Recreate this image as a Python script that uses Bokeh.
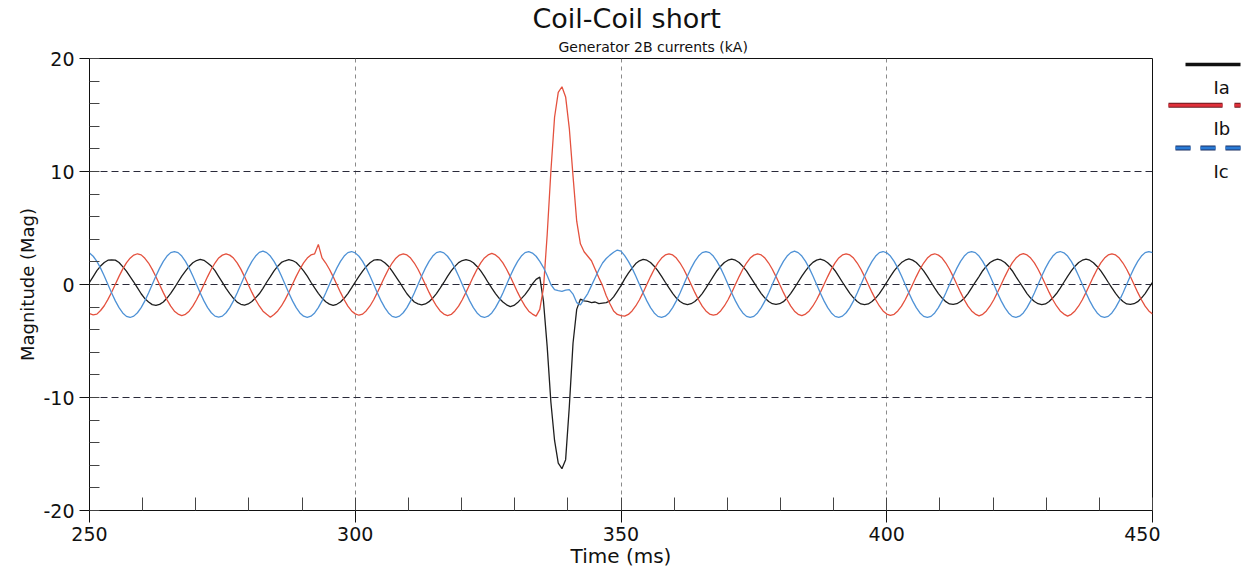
import numpy as np
from bokeh.plotting import figure
from bokeh.models import Range1d, FixedTicker, Title, ColumnDataSource
from bokeh.layouts import row
from bokeh.embed import file_html
from bokeh.resources import INLINE
from bokeh.core.properties import value

# ---------------- data ----------------
T_START = 250.0            # ms, first sample
SAMPLE_MS = 200.0 / 288    # 24 samples per 60 Hz cycle

TITLE = "Coil-Coil short"
SUBTITLE = "Generator 2B currents (kA)"
X_LABEL = "Time (ms)"
Y_LABEL = "Magnitude (Mag)"
SERIES_NAMES = ["Ia", "Ib", "Ic"]
X_TICKS = [250, 300, 350, 400, 450]
Y_TICKS = [-20, -10, 0, 10, 20]
Y_TICK_LABELS = ["-20", "-10", "0", "10", "20"]

IA = [
    0.18, 0.70, 1.22, 1.63, 1.95, 2.15, 2.18, 2.16, 1.95, 1.58, 1.18, 0.70, 0.22, -0.30, -0.82, -1.25, -1.55, -1.78, -1.85, -1.76, -1.55, -1.20, -0.78, -0.30,
    0.22, 0.74, 1.18, 1.60, 1.92, 2.12, 2.22, 2.14, 1.90, 1.63, 1.22, 0.70, 0.18, -0.34, -0.80, -1.22, -1.56, -1.75, -1.82, -1.72, -1.50, -1.18, -0.82, -0.34,
    0.20, 0.70, 1.21, 1.62, 1.95, 2.10, 2.20, 2.12, 1.95, 1.60, 1.20, 0.74, 0.20, -0.30, -0.78, -1.20, -1.52, -1.74, -1.85, -1.75, -1.55, -1.22, -0.80, -0.30,
    0.22, 0.72, 1.18, 1.60, 1.93, 2.15, 2.20, 2.15, 1.92, 1.62, 1.18, 0.70, 0.22, -0.32, -0.82, -1.20, -1.55, -1.72, -1.80, -1.72, -1.52, -1.20, -0.80, -0.32,
    0.18, 0.72, 1.20, 1.60, 1.94, 2.12, 2.20, 2.12, 1.93, 1.60, 1.20, 0.72, 0.18, -0.32, -0.80, -1.22, -1.55, -1.80, -1.95, -1.85, -1.60, -1.25, -0.90, -0.45,
    0.05, 0.45, 0.65, -1.50, -5.50, -10.4, -13.8, -15.8, -16.3, -15.5, -10.8, -5.2, -2.2, -1.30, -1.45, -1.50, -1.60, -1.55, -1.70, -1.65, -1.60, -1.45, -1.10, -0.60,
    -0.10, 0.50, 1.00, 1.45, 1.85, 2.10, 2.22, 2.15, 1.95, 1.62, 1.20, 0.72, 0.20, -0.30, -0.78, -1.20, -1.50, -1.70, -1.78, -1.70, -1.50, -1.20, -0.80, -0.32,
    0.20, 0.72, 1.22, 1.62, 1.95, 2.15, 2.25, 2.15, 1.95, 1.60, 1.20, 0.70, 0.18, -0.32, -0.80, -1.20, -1.50, -1.70, -1.76, -1.70, -1.52, -1.20, -0.78, -0.30,
    0.22, 0.74, 1.20, 1.63, 1.96, 2.16, 2.24, 2.14, 1.93, 1.62, 1.22, 0.72, 0.20, -0.30, -0.78, -1.18, -1.50, -1.72, -1.78, -1.72, -1.50, -1.20, -0.80, -0.32,
    0.20, 0.72, 1.20, 1.60, 1.94, 2.15, 2.26, 2.16, 1.95, 1.60, 1.20, 0.72, 0.20, -0.32, -0.80, -1.20, -1.52, -1.72, -1.75, -1.70, -1.50, -1.22, -0.80, -0.30,
    0.22, 0.70, 1.22, 1.62, 1.95, 2.14, 2.24, 2.15, 1.94, 1.62, 1.22, 0.70, 0.20, -0.30, -0.80, -1.20, -1.50, -1.70, -1.78, -1.72, -1.50, -1.18, -0.80, -0.32,
    0.20, 0.72, 1.20, 1.62, 1.95, 2.15, 2.25, 2.15, 1.93, 1.60, 1.20, 0.72, 0.20, -0.30, -0.78, -1.20, -1.50, -1.72, -1.76, -1.70, -1.52, -1.20, -0.80, -0.30,
    0.20,
]

IB = [
    -2.58, -2.68, -2.62, -2.30, -1.88, -1.32, -0.68, 0.02, 0.72, 1.36, 1.92, 2.33, 2.60, 2.72, 2.62, 2.32, 1.90, 1.34, 0.68, -0.02, -0.72, -1.36, -1.92, -2.36,
    -2.62, -2.75, -2.64, -2.36, -1.92, -1.35, -0.70, 0.00, 0.70, 1.35, 1.90, 2.35, 2.60, 2.70, 2.60, 2.34, 1.92, 1.36, 0.70, 0.00, -0.70, -1.35, -1.90, -2.36,
    -2.64, -2.90, -2.66, -2.34, -1.90, -1.34, -0.70, 0.02, 0.72, 1.35, 1.92, 2.34, 2.62, 2.72, 3.55, 2.35, 1.90, 1.35, 0.70, 0.00, -0.70, -1.35, -1.92, -2.34,
    -2.60, -2.72, -2.62, -2.32, -1.90, -1.35, -0.70, 0.00, 0.70, 1.35, 1.90, 2.33, 2.60, 2.70, 2.62, 2.34, 1.90, 1.35, 0.68, 0.00, -0.70, -1.34, -1.90, -2.34,
    -2.62, -2.75, -2.65, -2.34, -1.92, -1.35, -0.70, 0.00, 0.70, 1.35, 1.92, 2.35, 2.62, 2.75, 2.62, 2.34, 1.91, 1.35, 0.70, 0.00, -0.70, -1.35, -1.92, -2.36,
    -2.62, -2.80, -2.20, -0.30, 4.40, 10.0, 14.8, 17.0, 17.5, 16.6, 13.8, 9.60, 5.60, 3.60, 2.90, 2.50, 2.10, 1.35, 0.60, -0.10, -1.00, -1.70, -2.35, -2.65,
    -2.75, -2.80, -2.65, -2.34, -1.90, -1.35, -0.70, 0.00, 0.70, 1.35, 1.92, 2.34, 2.62, 2.72, 2.62, 2.34, 1.90, 1.35, 0.70, 0.00, -0.70, -1.35, -1.92, -2.34,
    -2.62, -2.72, -2.64, -2.34, -1.90, -1.35, -0.70, 0.00, 0.70, 1.35, 1.90, 2.34, 2.60, 2.70, 2.62, 2.34, 1.90, 1.35, 0.70, 0.00, -0.70, -1.35, -1.92, -2.36,
    -2.64, -2.76, -2.62, -2.34, -1.90, -1.35, -0.70, 0.00, 0.70, 1.36, 1.92, 2.35, 2.62, 2.72, 2.62, 2.34, 1.90, 1.35, 0.70, 0.00, -0.70, -1.35, -1.90, -2.34,
    -2.62, -2.74, -2.64, -2.34, -1.92, -1.35, -0.70, 0.00, 0.70, 1.35, 1.90, 2.34, 2.62, 2.72, 2.60, 2.34, 1.90, 1.35, 0.70, 0.00, -0.70, -1.35, -1.92, -2.34,
    -2.62, -2.78, -2.64, -2.34, -1.90, -1.35, -0.70, 0.00, 0.70, 1.35, 1.92, 2.34, 2.62, 2.74, 2.62, 2.34, 1.92, 1.35, 0.70, 0.00, -0.70, -1.35, -1.90, -2.34,
    -2.62, -2.80, -2.64, -2.34, -1.90, -1.35, -0.70, 0.00, 0.70, 1.35, 1.92, 2.34, 2.62, 2.72, 2.62, 2.34, 1.90, 1.35, 0.70, 0.00, -0.70, -1.35, -1.92, -2.34,
    -2.62,
]

IC = [
    2.78, 2.50, 2.05, 1.45, 0.75, 0.00, -0.75, -1.45, -2.05, -2.52, -2.82, -2.92, -2.80, -2.50, -2.05, -1.45, -0.75, 0.00, 0.75, 1.45, 2.05, 2.52, 2.82, 2.92,
    2.82, 2.52, 2.05, 1.45, 0.75, 0.00, -0.75, -1.45, -2.05, -2.50, -2.80, -2.88, -2.80, -2.50, -2.05, -1.45, -0.75, 0.00, 0.75, 1.45, 2.05, 2.52, 2.84, 2.95,
    2.82, 2.52, 2.05, 1.45, 0.75, 0.00, -0.75, -1.45, -2.05, -2.52, -2.80, -2.90, -2.80, -2.52, -2.05, -1.45, -0.75, 0.00, 0.75, 1.45, 2.05, 2.52, 2.82, 2.92,
    2.80, 2.50, 2.05, 1.45, 0.75, 0.00, -0.75, -1.45, -2.05, -2.52, -2.82, -2.90, -2.80, -2.50, -2.05, -1.45, -0.75, 0.00, 0.75, 1.45, 2.05, 2.52, 2.82, 2.90,
    2.80, 2.50, 2.05, 1.45, 0.75, 0.00, -0.75, -1.45, -2.05, -2.52, -2.82, -2.92, -2.80, -2.52, -2.05, -1.45, -0.75, 0.00, 0.75, 1.45, 2.05, 2.52, 2.82, 2.90,
    2.78, 2.50, 2.05, 1.50, 0.80, 0.00, -0.45, -0.55, -0.60, -0.50, -0.45, -0.85, -1.60, -1.80, -1.30, -0.80, -0.10, 0.60, 1.30, 1.90, 2.30, 2.60, 2.85, 3.05,
    2.95, 2.55, 2.05, 1.45, 0.75, 0.00, -0.75, -1.45, -2.05, -2.52, -2.82, -2.90, -2.80, -2.52, -2.05, -1.45, -0.75, 0.00, 0.75, 1.45, 2.05, 2.52, 2.82, 2.92,
    2.82, 2.52, 2.05, 1.45, 0.75, 0.00, -0.75, -1.45, -2.05, -2.52, -2.82, -2.92, -2.82, -2.52, -2.05, -1.45, -0.75, 0.00, 0.75, 1.45, 2.05, 2.52, 2.82, 2.95,
    2.82, 2.52, 2.05, 1.45, 0.75, 0.00, -0.75, -1.45, -2.05, -2.52, -2.82, -2.90, -2.80, -2.50, -2.05, -1.45, -0.75, 0.00, 0.75, 1.45, 2.05, 2.52, 2.82, 2.92,
    2.80, 2.52, 2.05, 1.45, 0.75, 0.00, -0.75, -1.45, -2.05, -2.52, -2.82, -2.92, -2.82, -2.52, -2.05, -1.45, -0.75, 0.00, 0.75, 1.45, 2.05, 2.52, 2.82, 2.92,
    2.82, 2.52, 2.05, 1.45, 0.75, 0.00, -0.75, -1.45, -2.05, -2.52, -2.82, -2.90, -2.80, -2.52, -2.05, -1.45, -0.75, 0.00, 0.75, 1.45, 2.05, 2.52, 2.82, 2.92,
    2.80, 2.52, 2.05, 1.45, 0.75, 0.00, -0.75, -1.45, -2.05, -2.52, -2.82, -2.92, -2.82, -2.52, -2.05, -1.45, -0.75, 0.00, 0.75, 1.45, 2.05, 2.52, 2.82, 2.92,
    2.82,
]

# ---------------- styling ----------------
FONT = "DejaVu Sans"
INK = "#111111"
COLORS = ["#1e1e1e", "#e4513e", "#4f92d6"]

t = T_START + np.arange(len(IA)) * SAMPLE_MS
src = ColumnDataSource(dict(t=t, ia=IA, ib=IB, ic=IC))

p = figure(width=1160, height=570, title=None,
           x_range=Range1d(X_TICKS[0], X_TICKS[-1]),
           y_range=Range1d(Y_TICKS[0], Y_TICKS[-1]),
           output_backend="svg", toolbar_location=None,
           min_border_left=89, min_border_right=8,
           min_border_top=57, min_border_bottom=58)
p.background_fill_color = "white"
p.border_fill_color = "white"
p.outline_line_color = INK
p.outline_line_width = 1

# titles: first added sits closest to the frame
p.add_layout(Title(text=SUBTITLE, align="left", offset=469, standoff=7,
                   text_font=FONT, text_font_size="14px", text_font_style="normal",
                   text_color=INK), "above")
p.add_layout(Title(text=TITLE, align="left", offset=443, standoff=0,
                   text_font=FONT, text_font_size="27px", text_font_style="normal",
                   text_color=INK), "above")

p.xaxis.ticker = FixedTicker(ticks=X_TICKS, minor_ticks=list(range(250, 451, 10)))
p.yaxis.ticker = FixedTicker(ticks=Y_TICKS, minor_ticks=list(range(-20, 21, 2)))
p.yaxis.major_label_overrides = dict(zip(Y_TICKS, Y_TICK_LABELS))
for ax in (p.xaxis[0], p.yaxis[0]):
    ax.axis_line_color = INK
    ax.major_tick_line_color = INK
    ax.minor_tick_line_color = "#444444"
    ax.major_tick_in = 0
    ax.minor_tick_out = 0
    ax.major_label_text_font = FONT
    ax.major_label_text_font_size = "19px"
    ax.major_label_text_color = INK
    ax.axis_label_text_font = FONT
    ax.axis_label_text_font_style = "normal"
    ax.axis_label_text_color = INK
p.xaxis.major_tick_out = 12
p.xaxis.minor_tick_in = 13
p.xaxis.major_label_standoff = 4
p.xaxis.axis_label = X_LABEL
p.xaxis.axis_label_text_font_size = "20px"
p.xaxis.axis_label_standoff = 0
p.yaxis.major_tick_out = 10
p.yaxis.minor_tick_in = 10
p.yaxis.major_label_standoff = 5
p.yaxis.axis_label = Y_LABEL
p.yaxis.axis_label_text_font_size = "18px"
p.yaxis.axis_label_standoff = 2

p.xgrid.ticker = FixedTicker(ticks=[v for v in X_TICKS if X_TICKS[0] < v < X_TICKS[-1]])
p.xgrid.grid_line_color = "#8a8a8a"
p.xgrid.grid_line_dash = "4 4"
p.xgrid.grid_line_width = 1
p.ygrid.ticker = FixedTicker(ticks=[v for v in Y_TICKS if Y_TICKS[0] < v < Y_TICKS[-1]])
p.ygrid.grid_line_color = "#2a2a3a"
p.ygrid.grid_line_dash = "7 4"
p.ygrid.grid_line_width = 1

p.line("t", "ia", source=src, color=COLORS[0], line_width=1.3)
p.line("t", "ib", source=src, color=COLORS[1], line_width=1.3)
p.line("t", "ic", source=src, color=COLORS[2], line_width=1.3)

# ---------------- legend panel (frame aligned with the main frame) ----------------
lg = figure(width=82, height=570, x_range=Range1d(1160, 1242), y_range=Range1d(512, 57),
            output_backend="svg", toolbar_location=None,
            min_border_left=0, min_border_right=0, min_border_top=57, min_border_bottom=58,
            x_axis_type=None, y_axis_type=None)
lg.grid.visible = False
lg.outline_line_color = None
lg.background_fill_color = "white"
lg.border_fill_color = "white"

lg.segment(x0=[1185], y0=[63], x1=[1240], y1=[63], color=INK, line_width=3.5)
lg.segment(x0=[1168, 1234], y0=[104, 104], x1=[1222, 1240], y1=[104, 104], color="#6a1a20", line_width=5)
lg.segment(x0=[1168, 1234], y0=[104, 104], x1=[1222, 1240], y1=[104, 104], color="#e0303a", line_width=3)
lg.line(x=[1175, 1242], y=[147, 147], color="#1a2f60", line_width=5, line_dash="15 10")
lg.line(x=[1175, 1242], y=[147, 147], color="#2a7bd6", line_width=3, line_dash="15 10")
lg.text(x=[1213, 1213, 1213], y=[86, 127, 171], text=SERIES_NAMES,
        text_font=value(FONT), text_font_size="18px", text_baseline="middle",
        text_align="left", text_color=INK)

layout = row(p, lg)
open("out.html", "w").write(file_html(layout, INLINE))
